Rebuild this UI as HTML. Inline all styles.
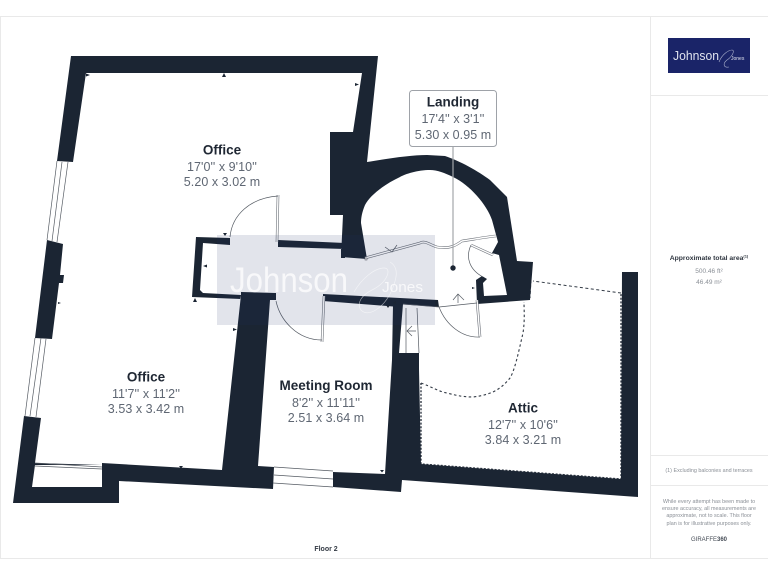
<!DOCTYPE html>
<html><head><meta charset="utf-8"><style>
html,body{margin:0;padding:0;background:#fff;width:768px;height:576px;overflow:hidden}
svg{display:block}
text{font-family:"Liberation Sans",sans-serif}
.n{font-size:13.5px;font-weight:700;fill:#1f2733;text-anchor:middle}
.d{font-size:12.5px;fill:#5f6773;text-anchor:middle;letter-spacing:.05px}
.w{fill:#1b2533}
.dbl{fill:none;stroke:#6b7078;stroke-width:2.6}
.dbi{fill:none;stroke:#fff;stroke-width:1.4}
.t{fill:none;stroke:#555b63;stroke-width:.7}
.dot{fill:none;stroke:#333b46;stroke-width:1.4;stroke-dasharray:2 1.6}
.side{fill:#8a8f96;text-anchor:middle;font-size:5.4px}
</style></head><body>
<svg width="768" height="576" viewBox="0 0 768 576" xmlns="http://www.w3.org/2000/svg">
<rect width="768" height="576" fill="#fff"/>
<path d="M0.500 16.500H768M0.500 16V558M0 558.500H768M650.500 16V558M651 95.500H768M651 455.500H768M651 485.500H768" fill="none" stroke="#e9e9e9" stroke-width="1"/>

<!-- dashed attic -->
<path class="dot" d="M421 383V464L621 479V293"/>
<path class="dot" style="stroke-width:1;stroke-dasharray:3 2.500" d="M621 293L533 281M531 280L530 298"/>
<path class="dot" style="stroke-width:1.100;stroke-dasharray:2.500 2.500" d="M421 383C432 387 440 392 447 393C458 396 465 397 473 397C482 396 488 394 493 392C501 388 506 383 510 378C515 370 519 350 523 333C525 320 524 310 524 302"/>

<!-- main walls -->
<path class="w" d="M71 56H378L367 162C385 159 410 155 427 155L445 156C460 161 478 171 490 180L507 197L517 261L533 262L530 300L477 304L476 280L482 276L487 279L483 283L484 296L507 295L499 255L492 253L498 242L492 220C487 205 470 185 453 177C445 173 437 170 430 170C418 170 405 174 400 177C385 184 370 195 365 205C362 212 361 218 361 223L367 259L341 257L343 215L330 215V132L353 132L362 73H86L73 162L57 161Z"/>
<path class="w" d="M47 240L63 244L60 275H64L63 283H59L52 339L35 338Z"/>
<path class="w" d="M24 416L41 418L35 463L102 465V463L222 470L241 295L203 293L200 290L203 243L230 245V238L196 237L192 297L241 299V292L276 293L276 300L270 300L258 466L274 467L273 489L119 481V503H13ZM32 487H102V465L35 465Z" fill-rule="evenodd"/>
<path class="w" d="M278 240L345 243L341 249V258L345 258V249L278 247Z"/>
<path class="w" d="M323 294L438 300L439 307L403 304.500L393 306.500L323 301Z"/>
<path class="w" d="M392 360L393 305L403 304L399 353H419V369L421 464L621 479L622 272H638V497L402 480L401 492L333 487V472L385 474Z"/>

<!-- windows -->
<g class="t">
<path d="M57 161L47 240M62 162L52 241M68 162L57 242"/>
<path d="M35 338L25 416M41 338L30 416M46 339L36 417"/>
<path d="M35 463L102 467M35 466L102 469"/>
<path d="M274 467L333 471M274 475L333 479M273 483L333 487"/>
</g>

<!-- doors -->
<path class="dbl" d="M278 195L277 242"/><path class="dbi" d="M278 195L277 242"/>
<path class="dbl" d="M324 296L322 342"/><path class="dbi" d="M324 296L322 342"/>
<path class="t" d="M230 237C232 215 250 198 278 196M276 301C280 320 297 340 322 340"/>
<path class="dbl" d="M477 300L480 337"/><path class="dbi" d="M477 300L480 337"/>
<path class="t" d="M439 307L477 303M439 307C446 325 462 338 480 337"/>
<path class="t" d="M458 303V294M453 300L458 294L464 300"/>
<path class="dbl" d="M471 245L493 255"/><path class="dbi" d="M471 245L493 255"/>
<path class="t" d="M471 245C465 258 470 270 483 277"/>

<!-- landing threshold line -->
<path class="dbl" d="M365 258L420 243C425 240 430 245 437 247C450 249 455 246 462 241C470 240 485 237 496 236"/>
<path class="dbi" d="M365 258L420 243C425 240 430 245 437 247C450 249 455 246 462 241C470 240 485 237 496 236"/>
<path class="t" d="M385 247L392 252L397 245"/>
<rect x="365" y="258" width="2" height="2" fill="#fff" stroke="#555" stroke-width=".5"/>

<!-- stair -->
<path class="t" d="M406 308V353M417 308L419 353M403 304L439 307M416 331H407M412 326L407 331L412 336"/>

<!-- Watermark -->
<rect x="217" y="235" width="218" height="90" fill="#1f2c66" fill-opacity=".13"/>
<text x="230" y="292" font-size="35" textLength="118" lengthAdjust="spacingAndGlyphs" fill="#fff" fill-opacity=".75">Johnson</text>
<text x="382" y="292" font-size="15" textLength="41" lengthAdjust="spacingAndGlyphs" fill="#fff" fill-opacity=".75">Jones</text>
<path d="M354 292C362 278 375 268 384 268C392 268 388 282 372 290C362 295 356 303 361 310C368 318 384 308 392 290C396 280 400 268 390 262" fill="none" stroke="#fff" stroke-opacity=".55" stroke-width=".7"/>

<!-- ticks -->
<g fill="#1b2533">
<path d="M86 73.500l4 1.500-4 1.500zM222 77l2-4 2 4zM355 83l4 1.500-4 1.500z"/>
<path d="M223 233l2 3 2-3zM203 266l4-1.500v3zM193 302l2-4 2 4z"/>
<path d="M179 466l2 2.500 2-2.500zM380 470l2 2.500 2-2.500zM233 328l4 1.500-4 1.500z"/>
<path d="M386 305l2 3 2-3zM393 303l3-2v3z"/>
<path d="M58 302l3 1-3 1z"/>
<path d="M472 287l3 1-3 1z"/>
</g>

<!-- Landing label -->
<rect x="409.500" y="90.500" width="87" height="56" rx="3" fill="#fff" stroke="#9ea2a8"/>
<path d="M453 147V268" stroke="#a3a6aa" stroke-width="1.200"/>
<circle cx="453" cy="268" r="2.700" fill="#1b2533"/>

<text class="n" x="453" y="106.500">Landing</text>
<text class="d" x="453" y="123">17'4'' x 3'1''</text>
<text class="d" x="453" y="139">5.30 x 0.95 m</text>
<text class="n" x="222" y="154.500">Office</text>
<text class="d" x="222" y="171">17'0'' x 9'10''</text>
<text class="d" x="222" y="186">5.20 x 3.02 m</text>
<text class="n" x="146" y="381.500">Office</text>
<text class="d" x="146" y="398">11'7'' x 11'2''</text>
<text class="d" x="146" y="413">3.53 x 3.42 m</text>
<text class="n" x="326" y="390">Meeting Room</text>
<text class="d" x="326" y="407">8'2'' x 11'11''</text>
<text class="d" x="326" y="422">2.51 x 3.64 m</text>
<text class="n" x="523" y="412.500">Attic</text>
<text class="d" x="523" y="429">12'7'' x 10'6''</text>
<text class="d" x="523" y="444">3.84 x 3.21 m</text>
<text x="326" y="551" text-anchor="middle" font-size="7" font-weight="700" fill="#333a44">Floor 2</text>

<!-- Sidebar -->
<rect x="668" y="38" width="82" height="35" fill="#1a2468"/>
<text x="673" y="60" font-size="13" fill="#dfe2ee" textLength="46" lengthAdjust="spacingAndGlyphs">Johnson</text>
<text x="731" y="60" font-size="5" fill="#dfe2ee">Jones</text>
<path d="M719 62C722 54 729 50 732 50C735 50 733 56 727 60C722 64 724 68 729 67" fill="none" stroke="#aab0cc" stroke-width=".6"/>
<text x="709" y="260" text-anchor="middle" font-size="6.800" font-weight="700" fill="#2f3640">Approximate total area<tspan font-size="4" dy="-2.500">(1)</tspan></text>
<text class="side" style="font-size:6.500px" x="709" y="273">500.46 ft²</text>
<text class="side" style="font-size:6.500px" x="709" y="284">46.49 m²</text>
<text class="side" x="709" y="472">(1) Excluding balconies and terraces</text>
<text class="side" x="709" y="503">While every attempt has been made to</text>
<text class="side" x="709" y="510">ensure accuracy, all measurements are</text>
<text class="side" x="709" y="517">approximate, not to scale. This floor</text>
<text class="side" x="709" y="525">plan is for illustrative purposes only.</text>
<text x="709" y="541" text-anchor="middle" font-size="6" fill="#444b55">GIRAFFE<tspan font-weight="700">360</tspan></text>
</svg>
</body></html>
